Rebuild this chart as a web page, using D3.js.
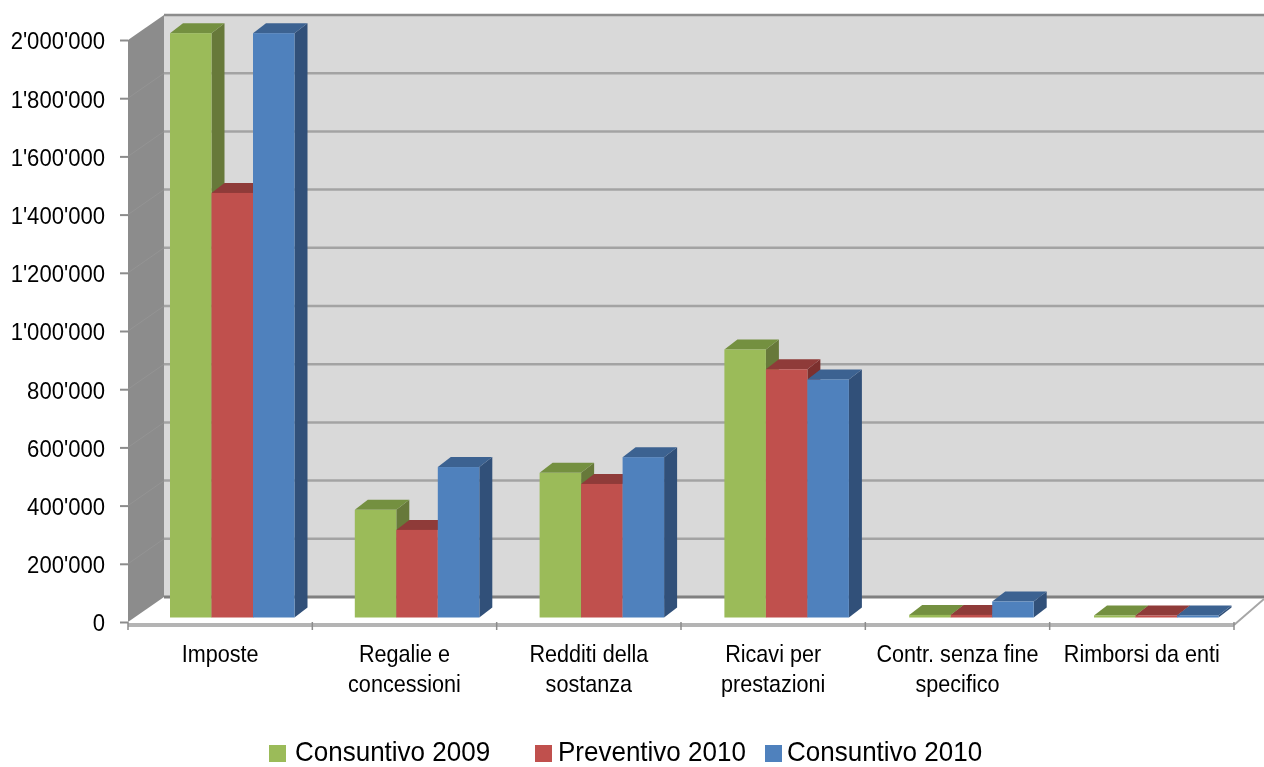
<!DOCTYPE html>
<html>
  <head>
    <meta charset="utf-8">
    <script src="https://d3js.org/d3.v7.min.js"></script>
    <style>
      html, body { margin: 0; background: #fff; }
      svg { display: block; filter: blur(0.45px); }
      text { font-family: "Liberation Sans", Arial, sans-serif; fill: #000; }
    </style>
  </head>
  <body>
  <script>
  var width = 1264, height = 767;

  // values
  var categories = ['Imposte', 'Regalie e concessioni', 'Redditi della sostanza', 'Ricavi per prestazioni', 'Contr. senza fine specifico', 'Rimborsi da enti'];
  var categoryLines = [['Imposte'], ['Regalie e', 'concessioni'], ['Redditi della', 'sostanza'], ['Ricavi per', 'prestazioni'], ['Contr. senza fine', 'specifico'], ['Rimborsi da enti']];
  var seriesNames = ['Consuntivo 2009', 'Preventivo 2010', 'Consuntivo 2010'];
  var consuntivo2009 = [2008000, 370000, 497000, 921000, 9000, 7000];
  var preventivo2010 = [1459000, 301000, 459000, 853000, 9000, 7000];
  var consuntivo2010 = [2008000, 517000, 551000, 818000, 55000, 7000];
  var seriesValues = [consuntivo2009, preventivo2010, consuntivo2010];
  var yTicks = [0, 200000, 400000, 600000, 800000, 1000000, 1200000, 1400000, 1600000, 1800000, 2000000];

  var frontColors = ['#9bbb59', '#c0504d', '#4f81bd'];
  var topColors = ['#749040', '#8f3b39', '#3c6291'];
  var sideColors = ['#67793a', '#7c302e', '#315079'];

  // 3d look of the plot: the back wall sits up and to the right of the axes
  var wallDx = 36, wallDy = -25;
  var barDx = 13, barDy = -10;
  var left = 128, right = 1234, bottom = 622, top_ = 40;

  var y = d3.scaleLinear().domain([0, 2000000]).range([bottom, top_]);
  var x = d3.scaleBand().domain(categories).range([left, right]);
  // the bars run on a slightly wider step than the axis ticks
  var barX = d3.scaleBand().domain(categories).range([170, 1278.8]);
  var inner = d3.scaleBand().domain(seriesNames).range([0, 124.5]);

  var svg = d3.select('body').append('svg')
      .attr('width', width)
      .attr('height', height);

  // back wall, side wall
  svg.append('rect')
      .attr('x', left + wallDx).attr('y', y(2000000) + wallDy)
      .attr('width', width - left - wallDx).attr('height', bottom - top_)
      .attr('fill', '#d9d9d9');
  svg.append('polygon')
      .attr('points', [[left, y(0)], [left + wallDx, y(0) + wallDy], [left + wallDx, y(2000000) + wallDy], [left, y(2000000)]].join(' '))
      .attr('fill', '#8c8c8c');

  // gridlines on the back wall and their faint return on the side wall
  svg.selectAll('.grid')
      .data(yTicks)
    .enter().append('line')
      .attr('class', 'grid')
      .attr('x1', left + wallDx).attr('x2', width)
      .attr('y1', function(d) { return y(d) + wallDy; })
      .attr('y2', function(d) { return y(d) + wallDy; })
      .attr('stroke', function(d) { return d === 0 ? '#808080' : d === 2000000 ? '#8c8c8c' : '#a3a3a3'; })
      .attr('stroke-width', function(d) { return d === 0 ? 3 : 2.5; });
  svg.selectAll('.gridside')
      .data(yTicks.slice(1, -1))
    .enter().append('line')
      .attr('class', 'gridside')
      .attr('x1', left).attr('x2', left + wallDx)
      .attr('y1', function(d) { return y(d); })
      .attr('y2', function(d) { return y(d) + wallDy; })
      .attr('stroke', '#949494').attr('stroke-width', 1);

  // floor edges
  svg.append('line')
      .attr('x1', left).attr('x2', right)
      .attr('y1', bottom + 3).attr('y2', bottom + 3)
      .attr('stroke', '#b4b4b4').attr('stroke-width', 4);
  svg.append('line')
      .attr('x1', right).attr('x2', width)
      .attr('y1', bottom + 3).attr('y2', y(0) + wallDy + 2)
      .attr('stroke', '#a6a6a6').attr('stroke-width', 2);

  // bars, drawn left to right so each one covers the side of the one before
  var groups = svg.selectAll('.cat')
      .data(categories)
    .enter().append('g')
      .attr('class', 'cat')
      .attr('transform', function(d) { return 'translate(' + barX(d) + ',-4.5)'; });

  groups.each(function(cat, ci) {
    var g = d3.select(this);
    seriesNames.forEach(function(name, si) {
      var x0 = inner(name), x1 = x0 + inner.bandwidth();
      var y0 = y(0), y1 = y(seriesValues[si][ci]);
      g.append('polygon')
          .attr('points', [[x1, y0], [x1 + barDx, y0 + barDy], [x1 + barDx, y1 + barDy], [x1, y1]].join(' '))
          .attr('fill', sideColors[si]);
      g.append('polygon')
          .attr('points', [[x0, y1], [x0 + barDx, y1 + barDy], [x1 + barDx, y1 + barDy], [x1, y1]].join(' '))
          .attr('fill', topColors[si]);
      g.append('rect')
          .attr('x', x0).attr('y', y1)
          .attr('width', inner.bandwidth()).attr('height', y0 - y1)
          .attr('fill', frontColors[si]);
    });
  });

  // y axis
  var yAxis = d3.axisLeft(y)
      .tickValues(yTicks)
      .tickSize(8)
      .tickPadding(16)
      .tickFormat(function(d) { return d3.format(',')(d).replace(/,/g, "'"); });
  var yG = svg.append('g')
      .attr('transform', 'translate(' + left + ',0)')
      .call(yAxis);
  yG.select('.domain').remove();
  yG.selectAll('line').attr('stroke', '#8c8c8c').attr('stroke-width', 2);
  // the reference text is squeezed sideways, so scale it rather than pick a font
  yG.selectAll('text')
      .attr('font-size', 23)
      .attr('dy', '0.39em')
      .attr('transform', 'scale(0.96,1)');

  // x axis: ticks sit on the band edges, labels in the middle
  var edges = categories.map(function(d) { return x(d); }).concat([right]);
  svg.selectAll('.xtick')
      .data(edges)
    .enter().append('line')
      .attr('class', 'xtick')
      .attr('x1', function(d) { return d; }).attr('x2', function(d) { return d; })
      .attr('y1', bottom).attr('y2', bottom + 8)
      .attr('stroke', '#8c8c8c').attr('stroke-width', 1.5);

  svg.selectAll('.xlabel')
      .data(categories)
    .enter().append('text')
      .attr('class', 'xlabel')
      .attr('text-anchor', 'middle')
      .attr('font-size', 24)
      .attr('transform', function(d) { return 'translate(' + (x(d) + x.bandwidth() / 2) + ',0) scale(0.9,1)'; })
      .each(function(d, i) {
        var t = d3.select(this);
        categoryLines[i].forEach(function(line, li) {
          t.append('tspan')
              .attr('x', 0)
              .attr('y', 662 + li * 30)
              .text(line);
        });
      });

  // legend
  var legendX = [269, 535, 765];
  var legendTextX = [26, 23, 22];
  var legend = svg.selectAll('.legend')
      .data(seriesNames)
    .enter().append('g')
      .attr('class', 'legend')
      .attr('transform', function(d, i) { return 'translate(' + legendX[i] + ',745)'; });
  legend.append('rect')
      .attr('width', 17).attr('height', 17)
      .attr('fill', function(d, i) { return frontColors[i]; });
  legend.append('text')
      .attr('transform', function(d, i) { return 'translate(' + legendTextX[i] + ',16) scale(0.963,1)'; })
      .attr('font-size', 27)
      .text(function(d) { return d; });
  </script>
  </body>
</html>
